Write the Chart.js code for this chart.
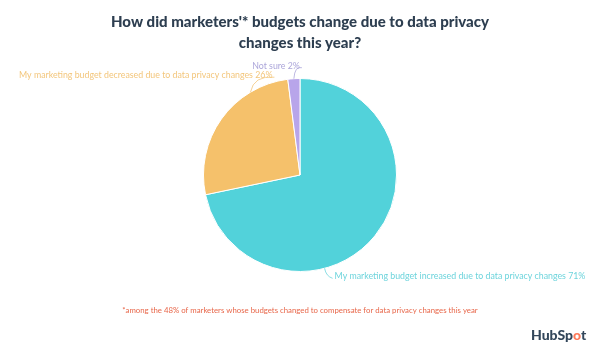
<!DOCTYPE html>
<html>
<head>
<meta charset="utf-8">
<script src="https://cdn.jsdelivr.net/npm/chart.js@4"></script>
<style>
  html, body { margin: 0; padding: 0; background: #fff; }
  #wrap { width: 600px; height: 358px; position: relative; }
</style>
</head>
<body>
<div id="wrap"><canvas id="pie"></canvas></div>
<script>
// data
const labels = [
  "My marketing budget increased due to data privacy changes",
  "My marketing budget decreased due to data privacy changes",
  "Not sure"
];
const values = [71, 26, 2];
const titleLines = [
  "How did marketers'* budgets change due to data privacy",
  "changes this year?"
];
const footnote = "*among the 48% of marketers whose budgets changed to compensate for data privacy changes this year";

const sliceColors = ["#52d2da", "#f5c16b", "#b8a5ea"];
const labelColors = ["#6dd4dc", "#f3c67c", "#aca6da"];

// where the leader line leaves each slice (fraction along the slice) and where the text sits
const callouts = [
  { frac: 0.64, dx: 10, dy: 8, align: "left" },
  { frac: 0.75, dx: 22, dy: -17, align: "right" },
  { frac: 0.5, dx: 6, dy: -13, align: "right" }
];

const decor = {
  id: "decor",
  afterDraw(chart) {
    const ctx = chart.ctx;
    const W = chart.width;
    ctx.save();
    ctx.textAlign = "center";
    ctx.textBaseline = "middle";

    // title
    ctx.fillStyle = "#2d3e50";
    ctx.font = "900 15px Lato";
    ctx.fillText(titleLines[0], W / 2, 22);
    ctx.fillText(titleLines[1], W / 2, 43);

    // callouts
    const meta = chart.getDatasetMeta(0);
    ctx.font = "8.8px Lato";
    meta.data.forEach((arc, i) => {
      const c = callouts[i];
      const a = arc.startAngle + (arc.endAngle - arc.startAngle) * c.frac;
      const px = arc.x + Math.cos(a) * arc.outerRadius;
      const py = arc.y + Math.sin(a) * arc.outerRadius;
      const tx = px + c.dx, ty = py + c.dy;
      ctx.strokeStyle = labelColors[i];
      ctx.lineWidth = 0.8;
      ctx.beginPath();
      ctx.moveTo(px, py);
      ctx.quadraticCurveTo(px + c.dx * 0.15, ty, tx + (c.align === "left" ? -2 : 2), ty + 2);
      ctx.stroke();
      ctx.fillStyle = labelColors[i];
      ctx.textAlign = c.align;
      ctx.fillText(labels[i] + " " + values[i] + "%", tx, ty);
    });

    // footnote
    ctx.textAlign = "center";
    ctx.fillStyle = "#e8674a";
    ctx.font = "7.8px Lato";
    ctx.fillText(footnote, W / 2, 310);

    // logo
    ctx.font = "900 14px Lato";
    ctx.textAlign = "left";
    ctx.fillStyle = "#33475b";
    let x = 531;
    const y = 335;
    ctx.fillText("HubSp", x, y);
    x += ctx.measureText("HubSp").width;
    ctx.fillStyle = "#ff7a59";
    ctx.fillText("o", x, y);
    x += ctx.measureText("o").width;
    ctx.fillStyle = "#33475b";
    ctx.fillText("t", x, y);
    ctx.restore();
  }
};

new Chart(document.getElementById("pie"), {
  type: "pie",
  data: {
    labels: labels,
    datasets: [{
      data: values,
      backgroundColor: sliceColors,
      borderColor: "#ffffff",
      borderWidth: 1
    }]
  },
  options: {
    responsive: true,
    maintainAspectRatio: false,
    animation: false,
    layout: { padding: { top: 78, bottom: 86, left: 0, right: 0 } },
    plugins: {
      legend: { display: false },
      tooltip: { enabled: false },
      title: { display: false }
    }
  },
  plugins: [decor]
});
</script>
</body>
</html>
